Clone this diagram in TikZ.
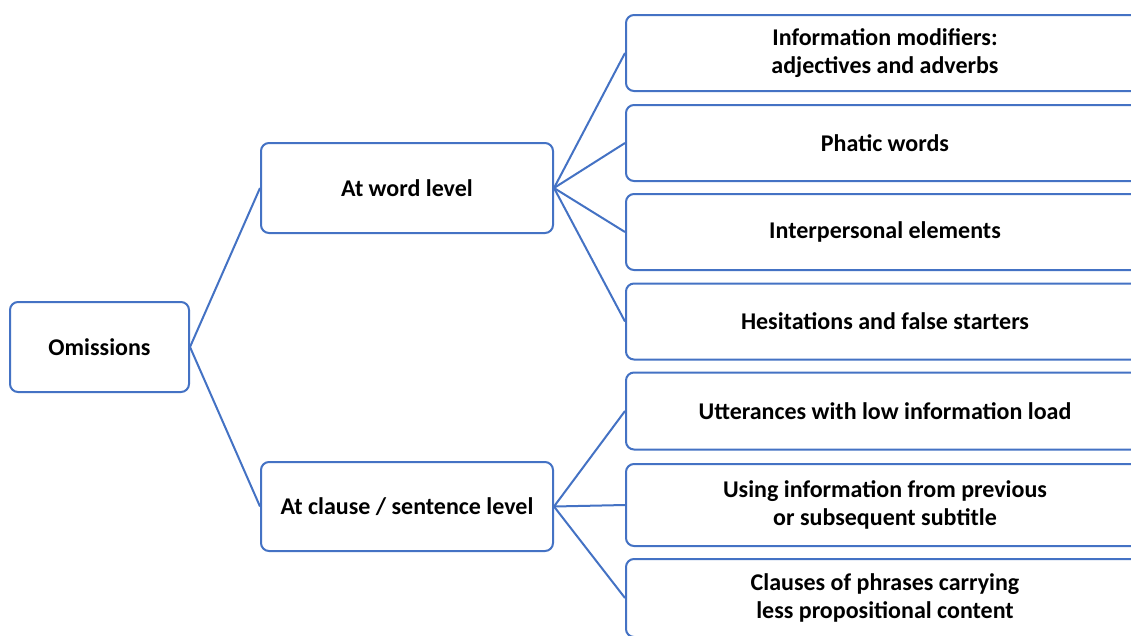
\documentclass[tikz,border=0pt]{standalone}
\usepackage{fontspec}
\setmainfont{Carlito}
\definecolor{lineblue}{HTML}{4472C4}
\begin{document}
\begin{tikzpicture}[x=1pt,y=-1pt,
  boxline/.style={draw=lineblue, line width=2pt, rounded corners=8pt},
  mainbox/.style={boxline, fill=white, align=center, font=\fontsize{24}{28}\selectfont\bfseries, inner sep=0pt},
  leaf/.style={boxline, fill=white, align=center, font=\fontsize{24}{28}\selectfont\bfseries, inner sep=0pt, minimum width=518pt, anchor=west},
  conn/.style={draw=lineblue, line width=2pt}]
\useasboundingbox (0,0) rectangle (1131,635);
\clip (0,0) rectangle (1131,635);
\fill[white] (0,0) rectangle (1131,635);

\node[mainbox, minimum width=179pt, minimum height=90pt] (om) at (99.5,347) {Omissions};
\node[mainbox, minimum width=292pt, minimum height=90pt] (wl) at (407,188) {At word level};
\node[mainbox, minimum width=292pt, minimum height=89pt] (cl) at (407,506.5) {At clause / sentence level};

\node[leaf, minimum height=76pt] (l1) at (625,53) {Information modifiers:\\adjectives and adverbs};
\node[leaf, minimum height=76pt] (l2) at (625,143) {Phatic words};
\node[leaf, minimum height=76pt] (l3) at (625,232) {Interpersonal elements};
\node[leaf, minimum height=76pt] (l4) at (625,321.5) {Hesitations and false starters};
\node[leaf, minimum height=77pt] (l5) at (625,411) {Utterances with low information load};
\node[leaf, minimum height=82pt] (l6) at (625,505) {Using information from previous\\or subsequent subtitle};
\node[leaf, minimum height=78pt] (l7) at (625,598) {Clauses of phrases carrying\\less propositional content};

\draw[conn] (om.east) -- (wl.west);
\draw[conn] (om.east) -- (cl.west);
\foreach \n in {l1,l2,l3,l4}
  \draw[conn] (wl.east) -- (\n.west);
\foreach \n in {l5,l6,l7}
  \draw[conn] (cl.east) -- (\n.west);
\end{tikzpicture}
\end{document}
